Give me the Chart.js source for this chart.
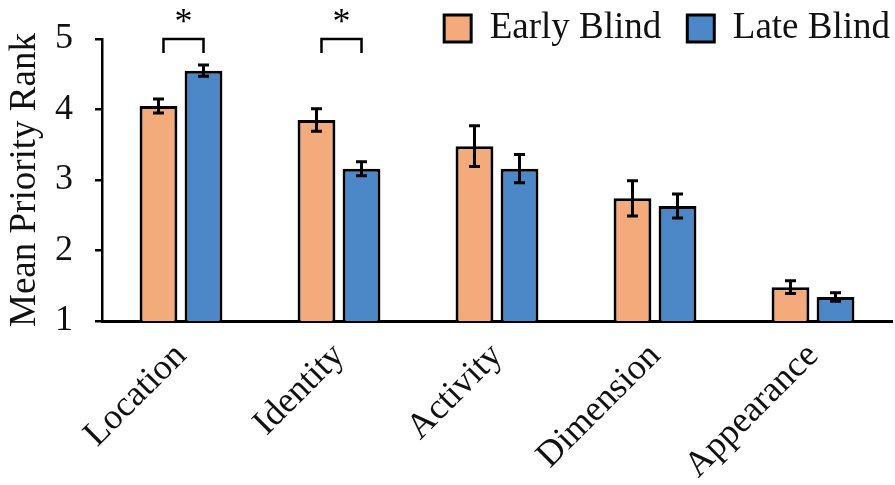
<!DOCTYPE html>
<html>
<head>
<meta charset="utf-8">
<script src="https://cdn.jsdelivr.net/npm/chart.js@4.4.0/dist/chart.umd.min.js"></script>
<style>
  html, body { margin: 0; padding: 0; background: #fff; }
  #wrap { width: 895px; height: 485px; }
</style>
</head>
<body>
<div id="wrap"><canvas id="rankChart"></canvas></div>
<script>
const categories = ['Location', 'Identity', 'Activity', 'Dimension', 'Appearance'];
const earlyBlind = [4.05, 3.85, 3.48, 2.74, 1.48];
const earlyErr = [0.10, 0.16, 0.29, 0.25, 0.09];
const lateBlind = [4.55, 3.16, 3.16, 2.63, 1.34];
const lateErr = [0.08, 0.10, 0.20, 0.17, 0.06];
const sigCategories = [0, 1];
const yTicks = [1, 2, 3, 4, 5];

const FONT = "'Liberation Serif', 'Times New Roman', serif";

// error bars + significance brackets, legend nudge
const extrasPlugin = {
    id: 'extras',
    afterLayout(chart) {
        // legend text sits higher and further right than chart.js puts it
        const lg = chart.legend;
        if (lg) {
            lg.top -= 16;
            lg.bottom += 16;
            lg.height = lg.bottom - lg.top;
            lg.left += 24;
            lg.right += 24;
        }
    },
    afterDatasetsDraw(chart) {
        const ctx = chart.ctx;
        const y = chart.scales.y;
        const errs = [earlyErr, lateErr];
        ctx.save();
        ctx.strokeStyle = '#000';
        ctx.lineWidth = 3;
        errs.forEach((errList, d) => {
            const meta = chart.getDatasetMeta(d);
            meta.data.forEach((bar, i) => {
                const v = chart.data.datasets[d].data[i];
                const top = y.getPixelForValue(v + errList[i]);
                const bot = y.getPixelForValue(v - errList[i]);
                ctx.beginPath();
                ctx.moveTo(bar.x, top);
                ctx.lineTo(bar.x, bot);
                ctx.moveTo(bar.x - 5.5, top);
                ctx.lineTo(bar.x + 5.5, top);
                ctx.moveTo(bar.x - 5.5, bot);
                ctx.lineTo(bar.x + 5.5, bot);
                ctx.stroke();
            });
        });

        ctx.lineWidth = 2.5;
        ctx.fillStyle = '#000';
        ctx.font = '36px ' + FONT;
        ctx.textAlign = 'center';
        ctx.textBaseline = 'middle';
        sigCategories.forEach(i => {
            const x1 = chart.getDatasetMeta(0).data[i].x + 5;
            const x2 = chart.getDatasetMeta(1).data[i].x;
            const yTop = y.getPixelForValue(5.0);
            const yLeg = y.getPixelForValue(4.8);
            ctx.beginPath();
            ctx.moveTo(x1, yLeg);
            ctx.lineTo(x1, yTop);
            ctx.lineTo(x2, yTop);
            ctx.lineTo(x2, yLeg);
            ctx.stroke();
            ctx.fillText('*', (x1 + x2) / 2, y.getPixelForValue(5.22));
        });
        ctx.restore();
    }
};

const ctx = document.getElementById('rankChart').getContext('2d');
new Chart(ctx, {
    type: 'bar',
    data: {
        labels: categories,
        datasets: [{
            label: 'Early Blind',
            data: earlyBlind,
            backgroundColor: '#F4AB7B',
            borderColor: '#000',
            borderWidth: 3
        }, {
            label: 'Late Blind',
            data: lateBlind,
            backgroundColor: '#4C87C8',
            borderColor: '#000',
            borderWidth: 3
        }]
    },
    options: {
        responsive: true,
        maintainAspectRatio: false,
        animation: false,
        categoryPercentage: 0.57,
        barPercentage: 0.84,
        layout: { padding: { left: 0, right: 3, top: 0, bottom: 0 } },
        plugins: {
            tooltip: { enabled: false },
            legend: {
                position: 'top',
                align: 'end',
                maxHeight: 39,
                labels: {
                    color: '#111',
                    font: { family: FONT, size: 37 },
                    boxWidth: 27,
                    boxHeight: 27,
                    padding: 26,
                    useBorderRadius: false
                }
            }
        },
        scales: {
            y: {
                min: 1,
                max: 5,
                afterBuildTicks(axis) {
                    axis.ticks = yTicks.map(v => ({ value: v }));
                },
                afterFit(scale) {
                    scale.width = 102;
                    scale.paddingTop = 0;
                },
                title: {
                    display: true,
                    text: 'Mean Priority Rank',
                    color: '#111',
                    font: { family: FONT, size: 37 },
                    padding: { top: 3, bottom: 6 }
                },
                ticks: {
                    color: '#111',
                    font: { family: FONT, size: 36 },
                    padding: 22
                },
                grid: {
                    drawOnChartArea: false,
                    tickLength: 7,
                    color: '#000',
                    lineWidth: 2.5
                },
                border: { color: '#000', width: 2.5 }
            },
            x: {
                afterFit(scale) {
                    scale.height = 164;
                },
                ticks: {
                    color: '#111',
                    font: { family: FONT, size: 36 },
                    minRotation: 45,
                    maxRotation: 45,
                    padding: 6
                },
                grid: { display: false },
                border: { color: '#000', width: 3 }
            }
        }
    },
    plugins: [extrasPlugin]
});
</script>
</body>
</html>
